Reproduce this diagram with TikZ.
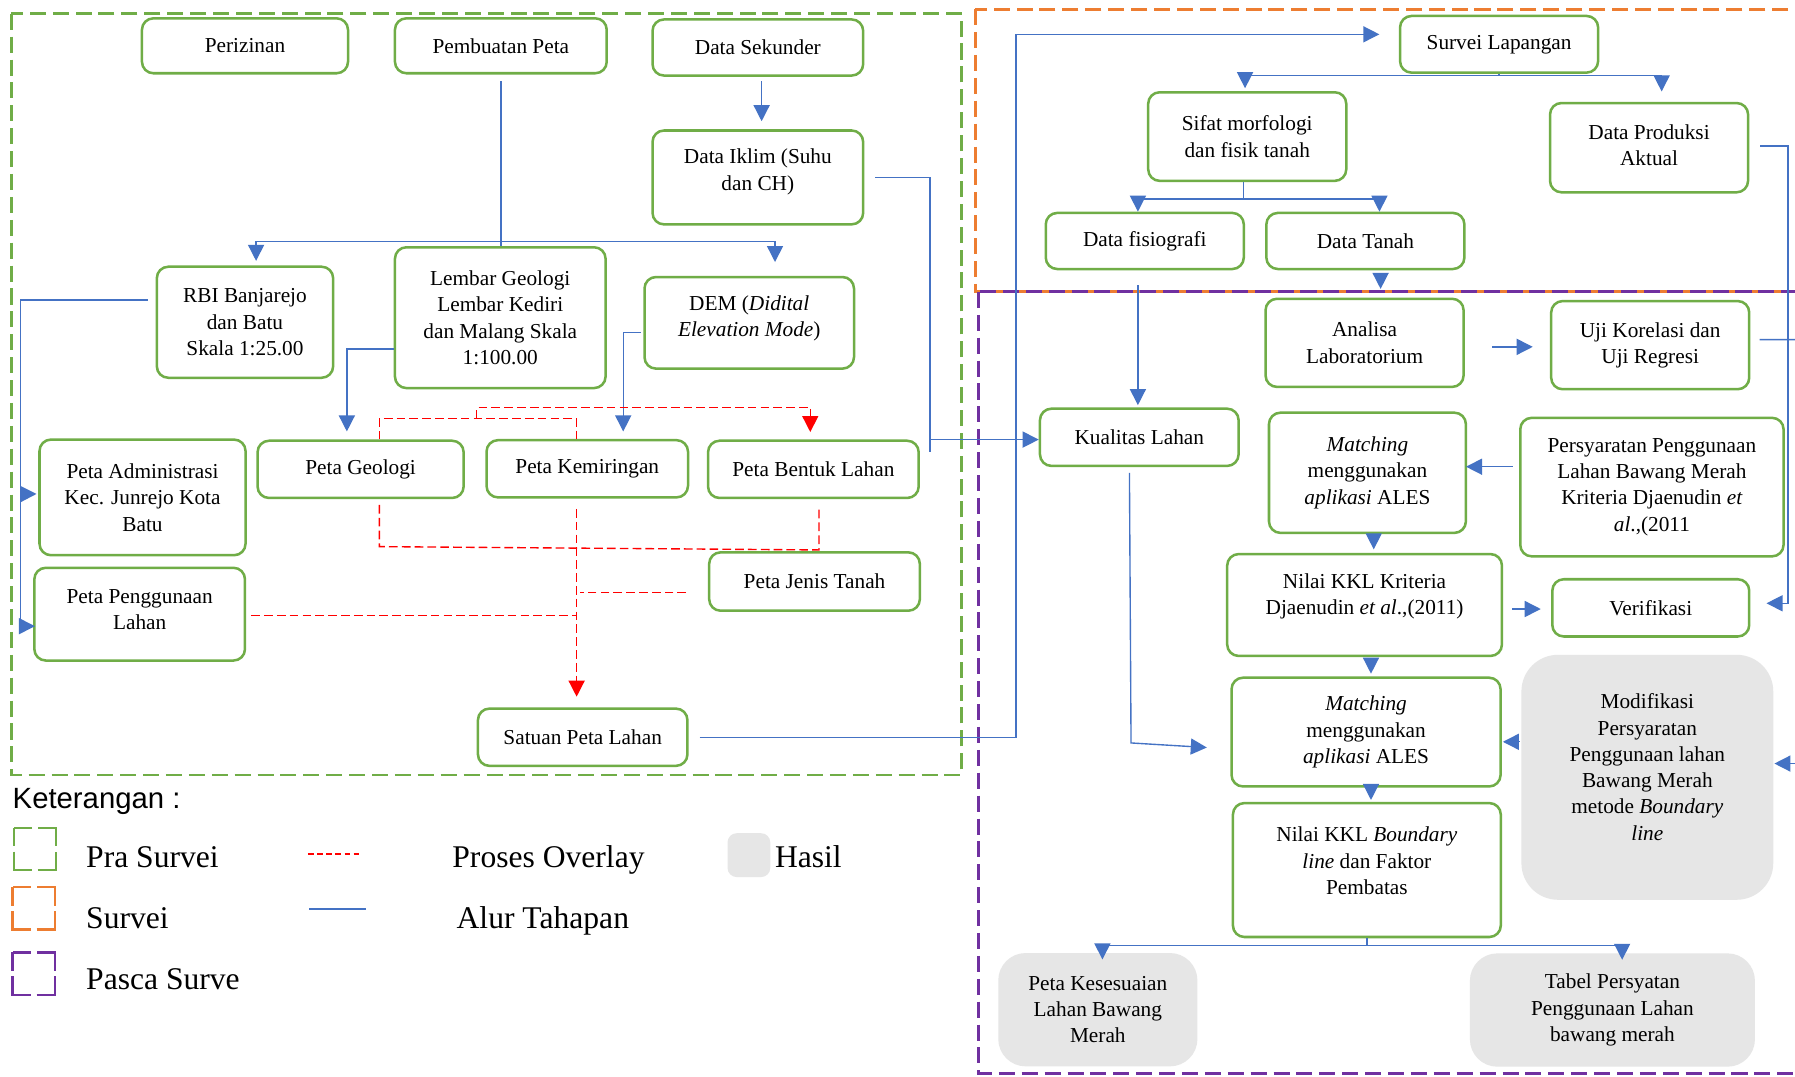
\documentclass[tikz,border=0pt]{standalone}
\usepackage{fontspec}
\setmainfont{Liberation Serif}
\newfontfamily\legsans{Liberation Sans}
\usetikzlibrary{arrows.meta,calc}
\definecolor{gfr}{HTML}{70AD47}
\definecolor{ofr}{HTML}{ED7D31}
\definecolor{pfr}{HTML}{7030A0}
\definecolor{bln}{HTML}{4472C4}
\definecolor{rln}{HTML}{FF0000}
\definecolor{hfill}{HTML}{E6E6E6}
\begin{document}
\begin{tikzpicture}[x=0.5pt,y=-0.5pt,
 sz/.style 2 args={minimum width=#1pt,minimum height=#2pt},
 gbox/.style={draw=gfr,line width=1.1pt,rounded corners=5pt,align=center,font=\fontsize{9.3}{11.5}\selectfont,inner sep=2pt},
 hbox/.style={fill=hfill,rounded corners=12pt,align=center,font=\fontsize{9.3}{11.5}\selectfont,inner sep=2pt},
 flow/.style={draw=bln,line width=0.6pt},
 arr/.style={flow,-{Triangle[length=7pt,width=7pt]}},
 ov/.style={draw=rln,line width=0.6pt,dash pattern=on 3.8pt off 1.8pt},
 ovarr/.style={ov,-{Triangle[length=7pt,width=7pt]}},
 frame/.style={line width=1.25pt,dash pattern=on 7pt off 3pt},
 legsq/.style={line width=1pt,dash pattern=on 16pt off 2.5pt,dash phase=8pt},
 leg/.style={anchor=base west,inner sep=0pt,font=\fontsize{13.8}{16}\selectfont},
]
\useasboundingbox (0,0) rectangle (1568,940);
\fill[white] (0,0) rectangle (1568,940);
\clip (0,0) rectangle (1568,940);

% containers
\draw[frame,draw=gfr] (10,12) rectangle (840,677);
\draw[frame,draw=ofr] (852,8) rectangle (1600,255);
\draw[frame,draw=pfr] (855,255) rectangle (1600,937.5);

% left nodes
\node[gbox,sz={90}{24}] (periz) at (214,40) {Perizinan};
\node[gbox,sz={92.5}{24}] (pemb) at (437.5,40) {Pembuatan Peta};
\node[gbox,sz={92}{24.5}] (seku) at (662,41.5) {Data Sekunder};
\node[gbox,sz={92}{41},text depth=6.8pt] (iklim) at (662,155) {Data Iklim (Suhu\\dan CH)};
\node[gbox,sz={77}{48.5}] (rbi) at (214,281.5) {RBI Banjarejo\\dan Batu\\Skala 1:25.00};
\node[gbox,sz={92}{61.5}] (lembar) at (437,277.5) {Lembar Geologi\\Lembar Kediri\\dan Malang Skala\\1:100.00};
\node[gbox,sz={91.5}{40},text depth=5.8pt] (dem) at (654.5,282) {DEM (\textit{Didital}\\\textit{Elevation Mode})};
\node[gbox,sz={90}{50.5}] (admin) at (124.5,434.5) {Peta Administrasi\\Kec. Junrejo Kota\\Batu};
\node[gbox,sz={90}{25}] (geol) at (315,410) {Peta Geologi};
\node[gbox,sz={88}{25}] (kemi) at (513,409.5) {Peta Kemiringan};
\node[gbox,sz={92}{25}] (bentuk) at (710.5,410) {Peta Bentuk Lahan};
\node[gbox,sz={92}{25.5}] (jenis) at (711.5,508) {Peta Jenis Tanah};
\node[gbox,sz={92}{40.5},text depth=4pt] (guna) at (122,536.5) {Peta Penggunaan\\Lahan};
\node[gbox,sz={91.5}{25}] (satuan) at (509,644) {Satuan Peta Lahan};

% right nodes
\node[gbox,sz={86.5}{24.75}] (survei) at (1309.5,38.7) {Survei Lapangan};
\node[gbox,sz={86.5}{38.7}] (sifat) at (1089.5,119.3) {Sifat morfologi\\dan fisik tanah};
\node[gbox,sz={86.5}{39},text depth=2.5pt] (prod) at (1440.5,129) {Data Produksi\\Aktual};
\node[gbox,sz={86.5}{24.5}] (fisio) at (1000,210.5) {Data fisiografi};
\node[gbox,sz={86.5}{24.5}] (tanah) at (1192.7,210.5) {Data Tanah};
\node[gbox,sz={86.5}{38.5}] (lab) at (1192,299.5) {Analisa\\Laboratorium};
\node[gbox,sz={86.5}{38.5}] (uji) at (1441.5,301.5) {Uji Korelasi dan\\Uji Regresi};
\node[gbox,sz={86.75}{25}] (kual) at (995.2,382) {Kualitas Lahan};
\node[gbox,sz={86}{52.5}] (match1) at (1194.5,413) {\textit{Matching}\\menggunakan\\\textit{aplikasi} ALES};
\node[gbox,sz={115}{60.5}] (persy) at (1443,425.5) {Persyaratan Penggunaan\\Lahan Bawang Merah\\Kriteria Djaenudin \textit{et}\\\textit{al}.,(2011};
\node[gbox,sz={120}{44.5},text depth=9.3pt] (kkl1) at (1192,528.5) {Nilai KKL Kriteria\\Djaenudin \textit{et al}.,(2011)};
\node[gbox,sz={86}{25}] (verif) at (1442,531) {Verifikasi};
\node[gbox,sz={117.5}{47.5}] (match2) at (1193.3,639.5) {\textit{Matching}\\menggunakan\\\textit{aplikasi} ALES};
\node[hbox,sz={110}{107},rounded corners=16pt,text depth=9pt] (modif) at (1439,679) {Modifikasi\\Persyaratan\\Penggunaan lahan\\Bawang Merah\\metode \textit{Boundary}\\\textit{line}};
\node[gbox,sz={117}{58.5},text depth=8pt] (kkl2) at (1194,760) {Nilai KKL \textit{Boundary}\\\textit{line} dan Faktor\\Pembatas};
\node[hbox,sz={87}{49.5}] (kes) at (959,882) {Peta Kesesuaian\\Lahan Bawang\\Merah};
\node[hbox,sz={124.5}{49.5}] (tabel) at (1408.5,882.3) {Tabel Persyatan\\Penggunaan Lahan\\bawang merah};

% left blue connectors
\draw[flow,shorten <=3pt] (pemb.south) -- (pemb.south |- lembar.north);
\coordinate (sp1) at (437.5,211);
\draw[arr] (sp1) -| ($(rbi.north)+(9.7,-4)$);
\draw[arr] (sp1) -| ($(dem.north)+(22.5,-12)$);
\draw[arr] ($(seku.south)+(3.3,4)$) -- ($(iklim.north)+(3.3,-7)$);
\draw[flow,shorten <=4.75pt] (iklim.east) -| (812.4,395);
\draw[arr] (812.4,384) -- ($(kual.west)+(0,2)$);
\draw[arr,shorten <=4.75pt] (satuan.east) -- (887.5,644) -- (887.5,30) -- ($(survei.west)+(-17,-8.7)$);
\draw[flow] ($(rbi.west)+(-7,-19.5)$) -- (18,262) -- (18,547);
\draw[arr] (18,431.6) -- ($(admin.west)+(-1.5,-3)$);
\draw[arr] (18,547) -- ($(guna.west)+(1.6,10.5)$);
\draw[arr] ($(lembar.west)+(0,27.5)$) -| ($(geol.north)+(-12,-7)$);
\draw[arr] ($(dem.west)+(-2,8.6)$) -| ($(kemi.north)+(31.4,-6.5)$);

% red overlay connectors
\draw[ov] ($(geol.north)+(16.4,0)$) |- (416.4,365.4) -| ($(kemi.north)+(-9.3,0)$);
\draw[ovarr] (416.4,365.4) -- (416.4,355.8) -| ($(bentuk.north)+(-2.7,-6.5)$);
\draw[ov] ($(geol.south)+(16.4,5)$) -- (331.4,477.5) -- (715.4,480.4) -- ($(bentuk.south)+(4.9,9)$);
\draw[ovarr] ($(kemi.south)+(-9.3,9)$) -- ($(satuan.north)+(-5.3,-9.3)$);
\draw[ov] ($(jenis.west)+(-19,9.7)$) -- (506.6,517.7);
\draw[ov] ($(guna.east)+(4.4,1.3)$) -- (504,537.8);

% right blue connectors
\coordinate (sp2) at (1309.5,66);
\draw[flow] (survei.south) -- (sp2);
\draw[arr] (sp2) -| ($(sifat.north)+(-1.9,-2.4)$);
\draw[arr] (sp2) -| ($(prod.north)+(11,-9)$);
\coordinate (sp3) at (1086.5,174);
\draw[flow] ($(sifat.south)+(-3,0)$) -- (sp3);
\draw[arr] (sp3) -| ($(fisio.north)+(-6,0)$);
\draw[arr] (sp3) -| ($(tanah.north)+(12.3,0)$);
\draw[arr] ($(tanah.south)+(13.3,5)$) -- ($(lab.north)+(14,-7.5)$);
\draw[arr] ($(fisio.south)+(-6,13)$) -- ($(kual.north)+(-1.2,-2)$);
\draw[arr] ($(lab.east)+(24,3.5)$) -- ($(uji.west)+(-15,1.5)$);
\draw[arr] ($(prod.east)+(9.6,-1.5)$) -- (1562,127.5) -- (1562,527) -- ($(verif.east)+(14,-4)$);
\draw[flow] ($(uji.east)+(8,-4.8)$) -- (1575,296.7);
\coordinate (offr) at (1575,667);
\draw[arr] (offr) -- ($(modif.east)+(0.6,-12)$);
\draw[arr] ($(persy.west)+(-5.6,-17.8)$) -- ($(match1.east)+(-1,-5.3)$);
\draw[arr] ($(match1.south)+(5.5,0)$) -- ($(kkl1.north)+(8,-3)$);
\draw[arr] ($(kkl1.east)+(8,3.5)$) -- ($(verif.west)+(-9,1)$);
\draw[arr] ($(kkl1.south)+(5.6,4)$) -- ($(match2.north)+(4.3,-2.4)$);
\draw[arr] ($(modif.west)+(-1,-31)$) -- ($(match2.east)+(0.9,8.5)$);
\draw[arr] ($(kual.south)+(-8.6,5)$) -- (988,649) -- ($(match2.west)+(-20.5,13.5)$);
\draw[arr] ($(match2.south)+(4.3,0)$) -- ($(kkl2.north)+(3.6,-1.6)$);
\coordinate (sp4) at (1194,826);
\draw[flow] (kkl2.south) -- (sp4);
\draw[arr] (sp4) -| ($(kes.north)+(4,6)$);
\draw[arr] (sp4) -| ($(tabel.north)+(8.5,6)$);

% legend
\node[anchor=base west,inner sep=0pt,font=\legsans\fontsize{12.8}{15}\selectfont] (ket) at (10.7,706) {Keterangan :};
\draw[legsq,draw=gfr] (12,723) rectangle (49,760);
\draw[legsq,draw=ofr] (11,775) rectangle (48,812);
\draw[legsq,draw=pfr] (11,832) rectangle (48,869);
\node[leg] (lpra) at (74.9,758) {Pra Survei};
\node[leg] (lsur) at (74.9,811) {Survei};
\node[leg] (lpas) at (74.9,864) {Pasca Surve};
\draw[ov,dash pattern=on 2.5pt off 1.5pt] (269,746) -- (316.7,746);
\draw[flow] (270,794) -- (320,794);
\node[leg] (lov) at (394.8,758) {Proses Overlay};
\node[leg] (lal) at (398.5,811) {Alur Tahapan};
\node[fill=hfill,rounded corners=4pt,minimum width=18.65pt,minimum height=19.15pt,inner sep=0pt] (hasil) at (654.2,747) {};
\node[leg] (lhas) at (676.6,758) {Hasil};
\end{tikzpicture}
\end{document}
